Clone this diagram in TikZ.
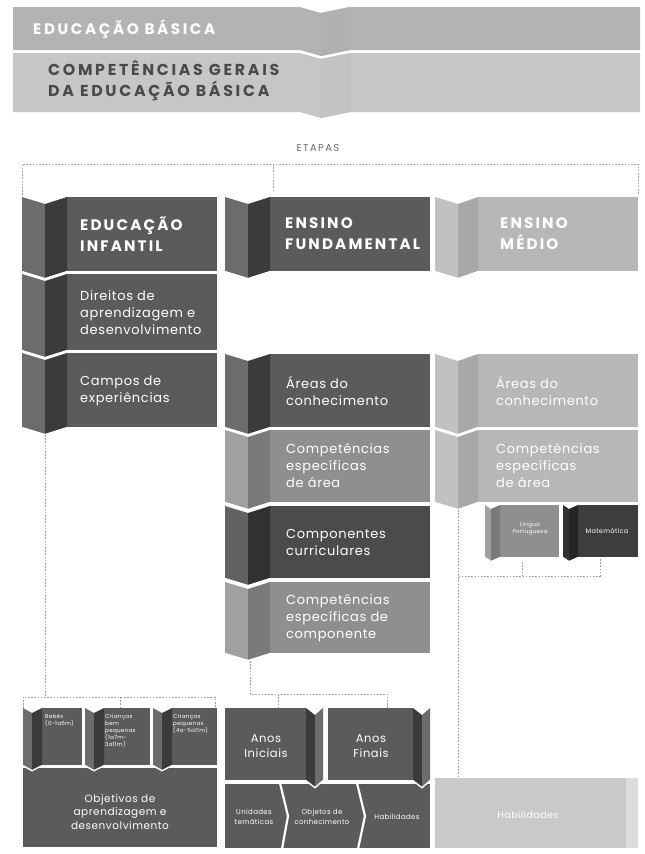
\documentclass[tikz,border=0pt]{standalone}
\usepackage{fontspec}
\setmainfont{Poppins}
\newfontfamily\headfont{Poppins}[LetterSpace=14]
\newfontfamily\bandfont{Poppins}[LetterSpace=17]
\newfontfamily\bodyfont{Poppins}[LetterSpace=5]
\usetikzlibrary{calc}

% grey palette
\definecolor{bandA}{HTML}{B3B3B3}
\definecolor{bandAfold}{HTML}{B0B0B0}
\definecolor{bandB}{HTML}{C6C6C6}
\definecolor{bandBfold}{HTML}{C3C3C3}
\definecolor{bandText}{HTML}{4A4A4A}
\definecolor{dkMain}{HTML}{5B5B5B}
\definecolor{dkOuter}{HTML}{6C6C6C}
\definecolor{dkStrip}{HTML}{3B3B3B}
\definecolor{xdMain}{HTML}{4B4B4B}
\definecolor{xdOuter}{HTML}{626262}
\definecolor{xdStrip}{HTML}{323232}
\definecolor{mdMain}{HTML}{8F8F8F}
\definecolor{mdOuter}{HTML}{A0A0A0}
\definecolor{mdStrip}{HTML}{7A7A7A}
\definecolor{ltMain}{HTML}{B7B7B7}
\definecolor{ltOuter}{HTML}{C1C1C1}
\definecolor{ltStrip}{HTML}{A8A8A8}
\definecolor{paleMain}{HTML}{C9C9C9}
\definecolor{paleFold}{HTML}{DCDCDC}
\definecolor{mtMain}{HTML}{3D3D3D}
\definecolor{mtStrip}{HTML}{252525}
\definecolor{link}{HTML}{9C9C9C}
\definecolor{labelGrey}{HTML}{6A6A6A}

% fold geometry: \fa = tip offset, \fw = total fold width, \fd = notch depth
\newcommand\setfold[3]{\def\fa{#1}\def\fw{#2}\def\fd{#3}}
% ribbon box folded on the left: x1,y1,x2,y2,main,outer,strip
\newcommand\ribL[7]{%
  \fill[#5] ({#1+\fw},#2) rectangle (#3,#4);
  \fill[#6] (#1,#2) -- ({#1+\fa},{#2+\fd}) -- ({#1+\fa},{#4+\fd}) -- (#1,#4) -- cycle;
  \fill[#7] ({#1+\fa},{#2+\fd}) -- ({#1+\fw},#2) -- ({#1+\fw},#4) -- ({#1+\fa},{#4+\fd}) -- cycle;
  \draw[white, line width=1.4pt] (#1,{#4+0.7}) -- ({#1+\fa},{#4+\fd+0.7}) -- ({#1+\fw},{#4+0.7});
}
% ribbon box folded on the right: x1,y1,x2,y2,main,outer,strip
\newcommand\ribR[7]{%
  \fill[#5] (#1,#2) rectangle ({#3-\fw},#4);
  \fill[#7] ({#3-\fw},#2) -- ({#3-\fw+\fa},{#2+\fd}) -- ({#3-\fw+\fa},{#4+\fd}) -- ({#3-\fw},#4) -- cycle;
  \fill[#6] ({#3-\fw+\fa},{#2+\fd}) -- (#3,#2) -- (#3,#4) -- ({#3-\fw+\fa},{#4+\fd}) -- cycle;
  \draw[white, line width=1.4pt] ({#3-\fw},{#4+0.7}) -- ({#3-\fw+\fa},{#4+\fd+0.7}) -- (#3,{#4+0.7});
}

\tikzset{
  conn/.style={draw=link, line width=0.8pt, dash pattern=on 1.6pt off 1.6pt},
  head/.style={text=white, font=\headfont\bfseries\fontsize{15.2}{21}\selectfont,
               align=left, anchor=west, inner sep=0pt},
  body/.style={text=white, font=\bodyfont\fontsize{13}{17}\selectfont,
               align=left, anchor=west, inner sep=0pt},
  mid/.style={text=white, font=\bodyfont\fontsize{10.5}{13.5}\selectfont,
              align=center, inner sep=0pt},
  tiny/.style={text=white, font=\bodyfont\fontsize{5.6}{7}\selectfont,
               align=left, anchor=north west, inner sep=0pt},
  small/.style={text=white, font=\bodyfont\fontsize{7}{9.5}\selectfont,
                align=center, inner sep=0pt},
}

\begin{document}
\begin{tikzpicture}[x=1pt,y=-1pt]
\useasboundingbox (0,0) rectangle (645,854);
\fill[white] (0,0) rectangle (645,854);

% ---- Educação Básica bands
\fill[bandA] (13,7) -- (300,7) -- (321,13) -- (350,7) -- (640,7) -- (640,50)
  -- (350,50) -- (321,56) -- (300,50) -- (13,50) -- cycle;
\fill[bandAfold] (321,13) -- (350,7) -- (350,50) -- (321,56) -- cycle;
\fill[bandB] (13,53) -- (300,53) -- (321,59) -- (350,53) -- (640,53) -- (640,112)
  -- (350,112) -- (321,118) -- (300,112) -- (13,112) -- cycle;
\fill[bandBfold] (321,59) -- (350,53) -- (350,112) -- (321,118) -- cycle;
\node[anchor=base west, inner sep=0pt, text=white,
      font=\bandfont\bfseries\fontsize{15.2}{16}\selectfont] (eb) at (33,34.5) {EDUCAÇÃO BÁSICA};
\node[anchor=west, inner sep=0pt, text=bandText, align=left,
      font=\bandfont\bfseries\fontsize{15.8}{21}\selectfont] (cg) at (48,81)
      {COMPETÊNCIAS GERAIS\\DA EDUCAÇÃO BÁSICA};

% ---- Etapas bracket
\node[text=labelGrey, font=\headfont\fontsize{10}{12}\selectfont, inner sep=0pt] (etapas) at (318,148) {ETAPAS};
\coordinate (brL) at (22,164);
\coordinate (brM) at (273,164);
\coordinate (brR) at (638,164);
\coordinate (eiIn) at (22,195);
\coordinate (efIn) at (273,192);
\coordinate (emIn) at (638,195);
\draw[conn] (eiIn) -- (brL) -- (brR) -- (emIn);
\draw[conn] (brM) -- (efIn);

% ---- Educação Infantil column
\setfold{23}{45}{7}
\ribL{22}{197}{217}{271}{dkMain}{dkOuter}{dkStrip}
\ribL{22}{274}{217}{350}{dkMain}{dkOuter}{dkStrip}
\ribL{22}{353}{217}{427}{dkMain}{dkOuter}{dkStrip}
\node[head] (ei) at (80,234) {EDUCAÇÃO\\INFANTIL};
\node[body] (eiDir) at (80,313) {Direitos de\\aprendizagem e\\desenvolvimento};
\node[body] (eiCam) at (80,391) {Campos de\\experiências};

% ---- Ensino Fundamental column
\ribL{225}{197}{430}{271}{dkMain}{dkOuter}{dkStrip}
\ribL{225}{354}{430}{427}{dkMain}{dkOuter}{dkStrip}
\ribL{225}{430}{430}{502}{mdMain}{mdOuter}{mdStrip}
\ribL{225}{506}{430}{578}{xdMain}{xdOuter}{xdStrip}
\ribL{225}{582}{430}{653}{mdMain}{mdOuter}{mdStrip}
\node[head] (ef) at (285,234) {ENSINO\\FUNDAMENTAL};
\node[body] (efAr) at (286,391) {Áreas do\\conhecimento};
\node[body] (efCa) at (286,466) {Competências\\específicas\\de área};
\node[body] (efCc) at (286,542) {Componentes\\curriculares};
\node[body] (efCe) at (286,618) {Competências\\específicas de\\componente};

% ---- Ensino Médio column
\setfold{23}{43}{7}
\ribL{435}{197}{638}{271}{ltMain}{ltOuter}{ltStrip}
\ribL{435}{354}{638}{427}{ltMain}{ltOuter}{ltStrip}
\ribL{435}{430}{638}{502}{ltMain}{ltOuter}{ltStrip}
\node[head] (em) at (500,234) {ENSINO\\MÉDIO};
\node[body] (emAr) at (496,391) {Áreas do\\conhecimento};
\node[body] (emCa) at (496,466) {Competências\\específicas\\de área};

% area components of Ensino Médio
\setfold{6}{15}{4}
\ribL{485}{505}{559}{557}{mdMain}{mdOuter}{mdStrip}
\ribL{563}{505}{638}{557}{mtMain}{xdStrip}{mtStrip}
\node[small, font=\bodyfont\fontsize{5.6}{7}\selectfont] (lp) at (530,529) {Língua\\Portuguesa};
\node[small, font=\bodyfont\fontsize{6.5}{8}\selectfont] (mt) at (607,531) {Matemática};

% ---- bottom: Educação Infantil age groups
\fill[dkMain] (23,768) rectangle (217,847);
\setfold{9}{19}{5}
\ribL{23}{708}{82}{765}{dkMain}{dkOuter}{dkStrip}
\ribL{85}{708}{150}{765}{dkMain}{dkOuter}{dkStrip}
\ribL{153}{708}{217}{765}{dkMain}{dkOuter}{dkStrip}
\node[tiny] (bb1) at (45,714) {Bebês\\(0-1a6m)};
\node[tiny] (bb2) at (105,714) {Crianças\\bem\\pequenas\\(1a7m-\\3a11m)};
\node[tiny] (bb3) at (173,714) {Crianças\\pequenas\\(4a-5a11m)};
\node[mid] (eiObj) at (120,812) {Objetivos de\\aprendizagem e\\desenvolvimento};

% ---- bottom: Ensino Fundamental stages
\fill[dkMain] (225,784) rectangle (430,848);
\draw[white, line width=2.2pt] (280,783) -- (288,816) -- (282,849);
\draw[white, line width=2.2pt] (357,783) -- (365,816) -- (358,849);
\setfold{9}{17}{7}
\ribR{225}{708}{323}{780}{dkMain}{dkOuter}{dkStrip}
\ribR{328}{708}{430}{780}{dkMain}{dkOuter}{dkStrip}
\node[mid, font=\bodyfont\fontsize{11.5}{15}\selectfont] (ai) at (266,746) {Anos\\Iniciais};
\node[mid, font=\bodyfont\fontsize{11.5}{15}\selectfont] (af) at (371,746) {Anos\\Finais};
\node[small] (ut) at (254,817) {Unidades\\temáticas};
\node[small] (oc) at (322,817) {Objetos de\\conhecimento};
\node[small] (hb1) at (397,817) {Habilidades};

% ---- bottom: Ensino Médio skills
\fill[paleMain] (435,778) rectangle (626,848);
\fill[paleFold] (626,778) rectangle (638,848);
\node[small, font=\bodyfont\fontsize{9.5}{11}\selectfont] (hb2) at (528,815) {Habilidades};

% ---- dashed links
\coordinate (eiOut) at (45,435);
\coordinate (eiJ) at (45,697);
\coordinate (eiL) at (23,697);
\coordinate (eiM) at (120,697);
\coordinate (eiR) at (215,697);
\coordinate (eiB1) at (23,708);
\coordinate (eiB2) at (120,708);
\coordinate (eiB3) at (215,708);
\draw[conn] (eiOut) -- (eiJ);
\draw[conn] (eiB1) -- (eiL) -- (eiR) -- (eiB3);
\draw[conn] (eiM) -- (eiB2);

\coordinate (efOut) at (250,661);
\coordinate (efJ) at (250,694);
\coordinate (efM) at (278,694);
\coordinate (efR) at (387,694);
\coordinate (efB1) at (278,708);
\coordinate (efB2) at (387,708);
\draw[conn] (efOut) -- (efJ) -- (efR) -- (efB2);
\draw[conn] (efM) -- (efB1);

\coordinate (emOut) at (458,510);
\coordinate (emJ) at (458,576);
\coordinate (emEnd) at (458,777);
\coordinate (lpOut) at (522,562);
\coordinate (lpJ) at (522,576);
\coordinate (mtOut) at (600,559);
\coordinate (mtJ) at (600,576);
\draw[conn] (emOut) -- (emEnd);
\draw[conn] (lpOut) -- (lpJ);
\draw[conn] (mtOut) -- (mtJ) -- (emJ);
\end{tikzpicture}
\end{document}
